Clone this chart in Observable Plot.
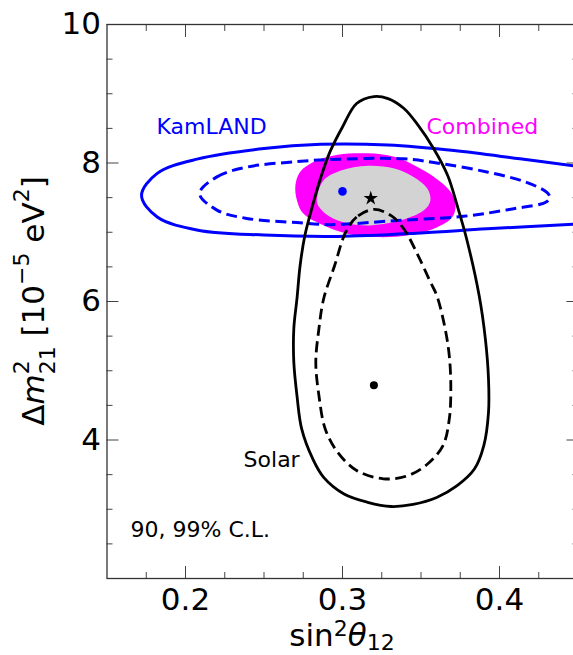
<!DOCTYPE html>
<html><head><meta charset="utf-8">
<script src="https://cdn.jsdelivr.net/npm/d3@7"></script>
<script src="https://cdn.jsdelivr.net/npm/@observablehq/plot@0.6"></script>
<style>
html,body{margin:0;padding:0;background:#fff;overflow:hidden;}
#chart{width:573px;height:655px;overflow:hidden;position:relative;}
#chart svg{display:block;max-width:none !important;}
</style></head><body><div id="chart"></div>
<script>
// sin^2(theta12), Delta m^2_21 [1e-5 eV^2]
const solar99 = [[0.320,8.96],[0.309,8.86],[0.300,8.52],[0.292,8.16],[0.286,7.78],[0.281,7.39],[0.276,6.95],[0.273,6.52],[0.271,6.04],[0.269,5.61],[0.269,5.12],[0.271,4.64],[0.274,4.16],[0.281,3.73],[0.288,3.46],[0.301,3.22],[0.316,3.10],[0.331,3.04],[0.345,3.07],[0.360,3.17],[0.373,3.34],[0.384,3.58],[0.390,3.92],[0.393,4.40],[0.393,4.88],[0.391,5.46],[0.387,6.09],[0.379,6.91],[0.373,7.39],[0.367,7.82],[0.358,8.21],[0.348,8.55],[0.339,8.79],[0.329,8.93]];
const solar90 = [[0.320,7.33],[0.309,7.22],[0.302,7.00],[0.295,6.52],[0.288,6.04],[0.285,5.61],[0.283,5.12],[0.285,4.64],[0.289,4.16],[0.297,3.82],[0.309,3.56],[0.326,3.44],[0.341,3.48],[0.354,3.65],[0.364,3.92],[0.368,4.30],[0.369,4.74],[0.368,5.22],[0.365,5.65],[0.360,6.09],[0.356,6.28],[0.348,6.67],[0.339,7.05],[0.331,7.24]];
const kamland99 = [[0.450,7.95],[0.413,8.06],[0.371,8.18],[0.329,8.26],[0.286,8.27],[0.250,8.21],[0.208,8.06],[0.182,7.85],[0.172,7.53],[0.182,7.22],[0.208,7.03],[0.250,6.96],[0.297,6.94],[0.350,6.99],[0.392,7.05],[0.450,7.12]];
const kamland90 = [[0.209,7.56],[0.220,7.80],[0.239,7.94],[0.271,8.02],[0.292,8.05],[0.339,8.06],[0.363,7.99],[0.392,7.87],[0.416,7.73],[0.430,7.58],[0.432,7.51],[0.430,7.44],[0.409,7.34],[0.377,7.23],[0.335,7.17],[0.292,7.11],[0.271,7.14],[0.239,7.20],[0.220,7.32]];
const combined99 = [[0.270,7.68],[0.273,7.87],[0.282,8.02],[0.297,8.12],[0.316,8.14],[0.333,8.09],[0.348,7.94],[0.360,7.77],[0.369,7.58],[0.372,7.39],[0.370,7.22],[0.360,7.07],[0.343,6.96],[0.322,6.93],[0.303,6.98],[0.286,7.12],[0.275,7.27],[0.271,7.46]];
const combined90 = [[0.284,7.53],[0.288,7.75],[0.299,7.89],[0.316,7.96],[0.333,7.92],[0.345,7.80],[0.354,7.63],[0.356,7.46],[0.352,7.32],[0.341,7.20],[0.326,7.12],[0.312,7.10],[0.297,7.17],[0.288,7.29],[0.284,7.41]];
const solarBest = [[0.320,4.79]];
const kamlandBest = [[0.300,7.59]];
const combinedBest = [[0.318,7.49]];
const xMajor = [0.2,0.3,0.4];
const xMinor = [0.175,0.225,0.25,0.275,0.325,0.35,0.375,0.425];
const yMajor = [4,6,8,10];
const yMinor = [2.5,3,3.5,4.5,5,5.5,6.5,7,7.5,8.5,9,9.5];

const W = 578, H = 655, mL = 106.5, mT = 24, mB = 77, mR = 0.5;
const tick = {stroke:"#444", strokeWidth:1, fill:"none", label:null};
const dash = "11,5.5";

const svg = Plot.plot({
  width: W, height: H,
  marginLeft: mL, marginTop: mT, marginBottom: mB, marginRight: mR,
  style: {fontFamily: "DejaVu Sans", fontSize: "31px", background: "#fff", color: "#000", maxWidth: "none"},
  x: {domain: [0.15, 0.45]},
  y: {domain: [2, 10]},
  marks: [
    Plot.line(combined99, {curve: "catmull-rom-closed", fill: "#ff00ff", stroke: "none"}),
    Plot.line(combined90, {curve: "catmull-rom-closed", fill: "#d3d3d3", stroke: "none"}),
    Plot.line(kamland99, {curve: "catmull-rom", stroke: "#0000ff", strokeWidth: 3}),
    Plot.line(kamland90, {curve: "catmull-rom-closed", stroke: "#0000ff", strokeWidth: 3, strokeDasharray: dash, strokeLinecap: "butt"}),
    Plot.line(solar99, {curve: "catmull-rom-closed", stroke: "#000", strokeWidth: 2.8}),
    Plot.line(solar90, {curve: "catmull-rom-closed", stroke: "#000", strokeWidth: 2.8, strokeDasharray: dash, strokeLinecap: "butt"}),
    Plot.dot(solarBest, {r: 4, fill: "#000", stroke: "none"}),
    Plot.dot(kamlandBest, {r: 4.3, fill: "#0000ff", stroke: "none"}),
    Plot.dot(combinedBest, {r: 4.5, symbol: "star", fill: "#000", stroke: "none"}),
    Plot.text(["KamLAND"], {x: 0.1815, y: 8.52, text: d => d, textAnchor: "start", fill: "#0000ff", fontSize: 22}),
    Plot.text(["Combined"], {x: 0.3535, y: 8.52, text: d => d, textAnchor: "start", fill: "#ff00ff", fontSize: 22}),
    Plot.text(["Solar"], {x: 0.237, y: 3.705, text: d => d, textAnchor: "start", fill: "#000", fontSize: 22}),
    Plot.text(["90, 99% C.L."], {x: 0.165, y: 2.707, text: d => d, textAnchor: "start", fill: "#000", fontSize: 22}),
    // inward ticks
    Plot.axisX(xMajor, {...tick, anchor: "bottom", tickSize: 12, dy: -12}),
    Plot.axisX(xMinor, {...tick, anchor: "bottom", tickSize: 6, dy: -6}),
    Plot.axisX(xMajor, {...tick, anchor: "top", tickSize: 12, dy: 12}),
    Plot.axisX(xMinor, {...tick, anchor: "top", tickSize: 6, dy: 6}),
    Plot.axisY(yMajor, {...tick, anchor: "left", tickSize: 12, dx: 12}),
    Plot.axisY(yMinor, {...tick, anchor: "left", tickSize: 6, dx: 6}),
    Plot.axisY(yMajor, {...tick, anchor: "right", tickSize: 12, dx: -12}),
    Plot.axisY(yMinor, {...tick, anchor: "right", tickSize: 6, dx: -6}),
    // tick labels
    Plot.axisX(xMajor, {anchor: "bottom", tickSize: 0, tickPadding: 9, label: null, fontSize: 31, tickFormat: d3.format(".1f")}),
    Plot.axisY(yMajor, {anchor: "left", tickSize: 0, tickPadding: 6, label: null, fontSize: 31, tickFormat: d => String(d)}),
    Plot.frame({stroke: "#333", strokeWidth: 1.3})
  ]
});
document.getElementById("chart").appendChild(svg);

// axis titles with math formatting
const s = d3.select(svg);
const base = 31, small = 22;
const xl = s.append("text")
  .attr("x", mL + (W - mL - mR) / 2).attr("y", 646)
  .attr("text-anchor", "middle").attr("font-size", base)
  .attr("font-family", "DejaVu Sans").attr("fill", "#000");
xl.append("tspan").text("sin");
xl.append("tspan").attr("font-size", small).attr("dy", -10).text("2");
xl.append("tspan").attr("font-style", "italic").attr("dy", 10).text("θ");
xl.append("tspan").attr("font-size", small).attr("dy", 4).text("12");

const yl = s.append("text")
  .attr("transform", `translate(43.5,${mT + (H - mT - mB) / 2}) rotate(-90)`)
  .attr("text-anchor", "middle").attr("font-size", base)
  .attr("font-family", "DejaVu Sans").attr("fill", "#000");
yl.append("tspan").text("Δ");
yl.append("tspan").attr("font-style", "italic").text("m");
yl.append("tspan").attr("font-size", small).attr("dy", -15).text("2");
yl.append("tspan").attr("font-size", small).attr("dx", -small * 0.636).attr("dy", 26).text("21");
yl.append("tspan").attr("dy", -11).text("\u00a0[10");
yl.append("tspan").attr("font-size", small).attr("dy", -15).text("−5");
yl.append("tspan").attr("dy", 15).text("\u00a0eV");
yl.append("tspan").attr("font-size", small).attr("dy", -15).text("2");
yl.append("tspan").attr("dy", 15).text("]");
</script>
</body></html>
